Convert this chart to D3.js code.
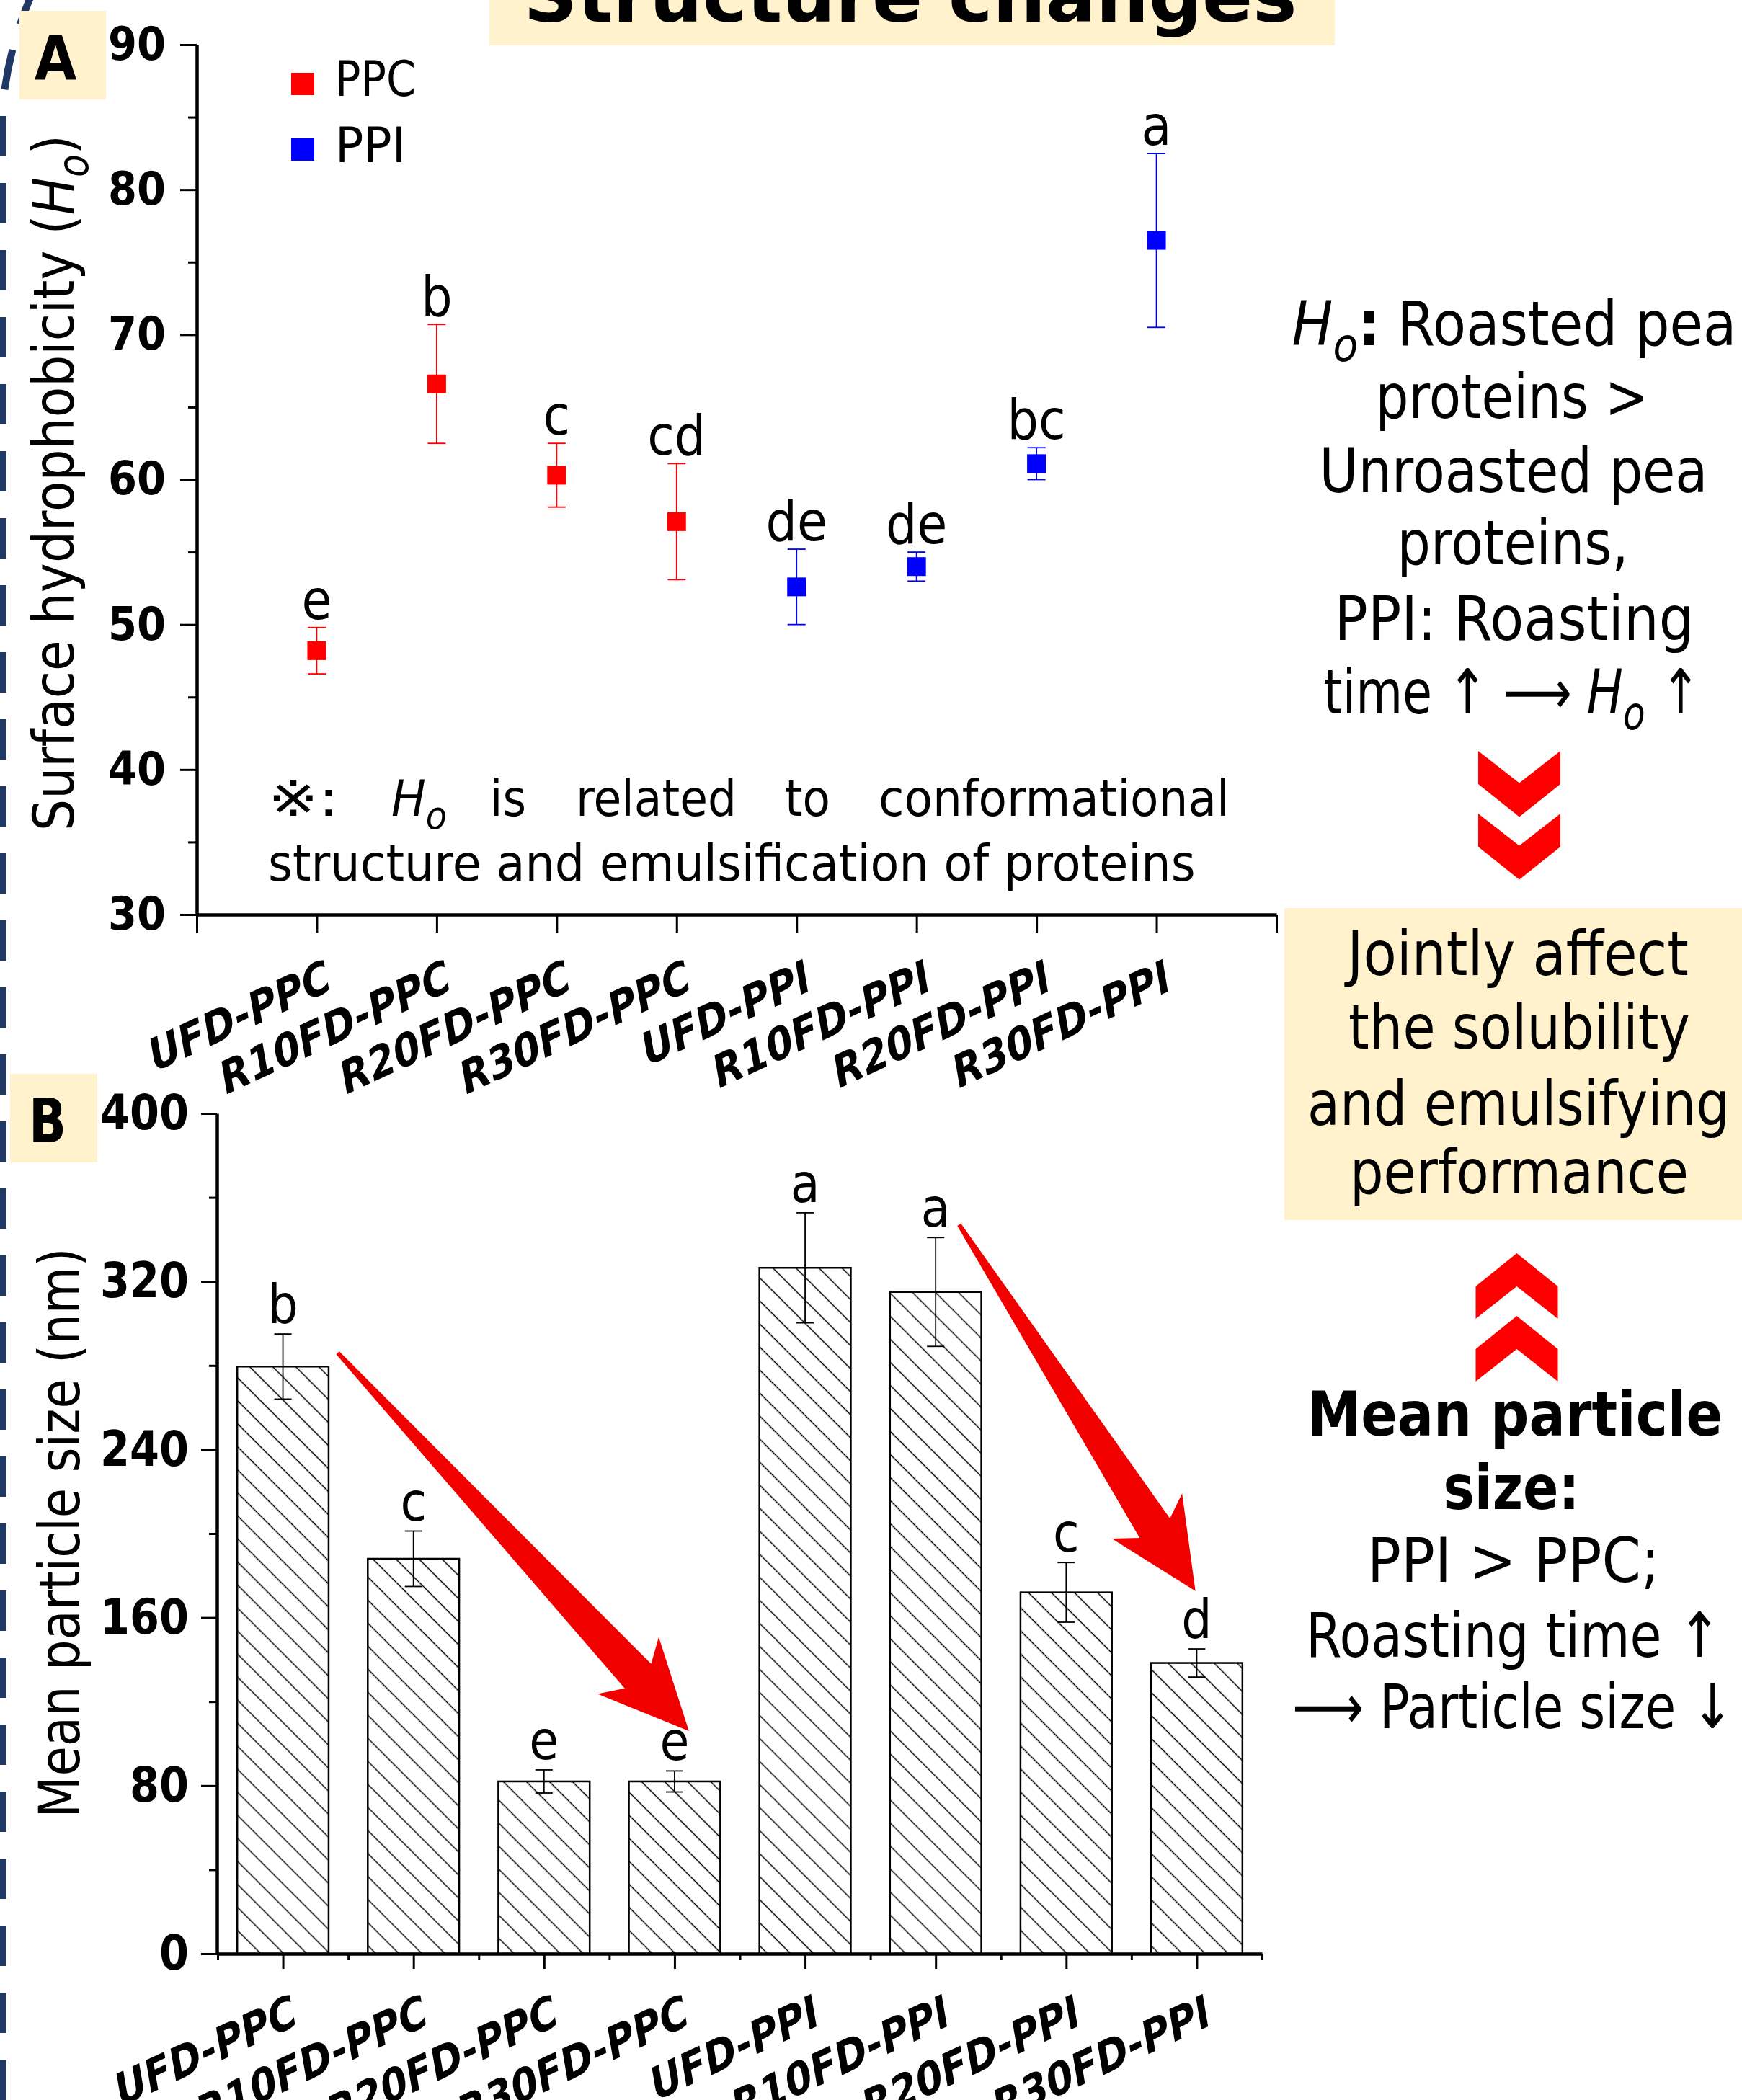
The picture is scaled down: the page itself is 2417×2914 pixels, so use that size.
<!DOCTYPE html>
<html lang="en">
<head>
<meta charset="UTF-8">
<title>Structure changes</title>
<script src="https://d3js.org/d3.v7.min.js"></script>
<style>
  body { margin: 0; background: #fff; }
  svg { display: block; font-family: "DejaVu Sans", Verdana, sans-serif; }
  text { white-space: pre; }
</style>
</head>
<body>
<script>
    // data
    var samples = ["UFD-PPC", "R10FD-PPC", "R20FD-PPC", "R30FD-PPC", "UFD-PPI", "R10FD-PPI", "R20FD-PPI", "R30FD-PPI"];
    var proteinType = ["PPC", "PPC", "PPC", "PPC", "PPI", "PPI", "PPI", "PPI"];
    var hoMean = [48.2, 66.6, 60.3, 57.1, 52.6, 54.0, 61.1, 76.5];
    var hoErr = [1.6, 4.1, 2.2, 4.0, 2.6, 1.0, 1.1, 6.0];
    var hoLetters = ["e", "b", "c", "cd", "de", "de", "bc", "a"];
    var sizeMean = [279.5, 188, 82, 82, 326.5, 315, 172, 138.4];
    var sizeErr = [15.5, 13.2, 5.5, 5, 26.2, 25.9, 14.2, 6.7];
    var sizeLetters = ["b", "c", "e", "e", "a", "a", "c", "d"];
    var hoTicks = [30, 40, 50, 60, 70, 80, 90];
    var hoMinor = [35, 45, 55, 65, 75, 85];
    var sizeTicks = [0, 80, 160, 240, 320, 400];
    var sizeMinor = [40, 120, 200, 280, 360];
    var typeColor = { PPC: "#ff0000", PPI: "#0000ff" };

    var W = 2417, H = 2914;
    var svg = d3.select("body").append("svg").attr("width", W).attr("height", H);
    svg.append("rect").attr("width", W).attr("height", H).attr("fill", "#fff");

    var defs = svg.append("defs");
    defs.append("pattern").attr("id", "hatch")
        .attr("patternUnits", "userSpaceOnUse")
        .attr("width", 22.6).attr("height", 22.6)
        .attr("patternTransform", "rotate(-45)")
        .append("line")
        .attr("x1", 11.3).attr("y1", -1).attr("x2", 11.3).attr("y2", 24)
        .attr("stroke", "#000").attr("stroke-width", 1.5);

    // squeeze a text horizontally to a given width
    function fit(t, w) {
        var bw = t.node().getBBox().width;
        if (bw > 0) t.attr("transform", (t.attr("transform") || "") + " scale(" + (w / bw) + ",1)");
        return t;
    }

    // text made of parts: plain strings or {t, i (italic), b (bold), sub}
    function rich(parent, x, y, parts, size, opt) {
        opt = opt || {};
        var t = parent.append("text")
            .attr("transform", "translate(" + x + "," + y + ")" + (opt.rotate ? " rotate(" + opt.rotate + ")" : ""))
            .attr("text-anchor", opt.anchor || "middle")
            .attr("font-size", size)
            .attr("font-weight", opt.bold ? "bold" : "normal")
            .attr("fill", "#000");
        var shift = 0;
        parts.forEach(function (p) {
            if (typeof p === "string") p = { t: p };
            var s = t.append("tspan").text(p.t);
            if (p.i) s.attr("font-style", "italic");
            if (p.b) s.attr("font-weight", "bold");
            var want = p.sub ? size * 0.25 : 0;
            if (want !== shift) { s.attr("dy", want - shift); shift = want; }
            if (p.sub) s.attr("font-size", size * 0.75);
        });
        if (opt.width) fit(t, opt.width);
        return t;
    }

    function fitTicks(g, size, perChar) {
        g.attr("font-size", size).attr("font-family", "DejaVu Sans").attr("font-weight", "bold");
        g.selectAll(".tick text").each(function () {
            var t = d3.select(this), x = +t.attr("x");
            t.attr("x", 0).attr("transform", "translate(" + x + ",0)");
            fit(t, t.text().length * perChar);
        });
    }

    function catLabel(g, x, y, s) {
        g.append("text")
            .attr("transform", "translate(" + x + "," + y + ") scale(1,1.15) rotate(-22)")
            .attr("text-anchor", "end").attr("font-size", 54)
            .attr("font-weight", "bold").attr("font-style", "italic")
            .text(s);
    }

    // dashed frame on the left edge
    svg.append("path")
        .attr("d", "M3.5,2914 V150 A500,500 0 0 1 45,-10")
        .attr("fill", "none").attr("stroke", "#1f3864")
        .attr("stroke-width", 10).attr("stroke-dasharray", "56 37");

    // title box
    svg.append("rect").attr("x", 679).attr("y", -5).attr("width", 1173).attr("height", 68).attr("fill", "#fff2cc");
    rich(svg, 1263, 30, ["Structure changes"], 100, { bold: true, width: 1073 });

    // ---------------- panel A ----------------
    var xA = d3.scaleLinear().domain([0, 9]).range([273, 1771]);
    var yA = d3.scaleLinear().domain([30, 90]).range([1269, 62]);
    var gA = svg.append("g");

    gA.append("rect").attr("x", 27).attr("y", 15).attr("width", 120).attr("height", 123).attr("fill", "#fff2cc");
    rich(gA, 77, 110, ["A"], 86, { bold: true, width: 59 });

    var yAxisA = gA.append("g").attr("transform", "translate(273,0)")
        .call(d3.axisLeft(yA).tickValues(hoTicks).tickSize(23).tickPadding(20).tickSizeOuter(0));
    yAxisA.select(".domain").attr("stroke-width", 4.5);
    yAxisA.selectAll(".tick line").attr("stroke-width", 3);
    fitTicks(yAxisA, 64, 40);
    gA.append("g").attr("transform", "translate(273,0)")
        .call(d3.axisLeft(yA).tickValues(hoMinor).tickSize(12).tickFormat(""))
        .call(function (g) { g.select(".domain").remove(); g.selectAll("line").attr("stroke-width", 3); });

    var xAxisA = gA.append("g").attr("transform", "translate(0,1269)")
        .call(d3.axisBottom(xA).tickValues(d3.range(0, 10)).tickSize(25).tickFormat("").tickSizeOuter(0));
    xAxisA.select(".domain").attr("stroke-width", 4.5);
    xAxisA.selectAll(".tick line").attr("stroke-width", 3);

    samples.forEach(function (s, i) { catLabel(gA, xA(i + 1) + 24, 1372, s); });

    var ptsA = gA.selectAll("g.pt").data(samples).enter().append("g").attr("class", "pt");
    ptsA.each(function (s, i) {
        var g = d3.select(this), cx = xA(i + 1), col = typeColor[proteinType[i]];
        var top = yA(hoMean[i] + hoErr[i]), bot = yA(hoMean[i] - hoErr[i]);
        g.append("line").attr("x1", cx).attr("x2", cx).attr("y1", top).attr("y2", bot).attr("stroke", col).attr("stroke-width", 1.8);
        [top, bot].forEach(function (yy) {
            g.append("line").attr("x1", cx - 12.5).attr("x2", cx + 12.5).attr("y1", yy).attr("y2", yy).attr("stroke", col).attr("stroke-width", 1.8);
        });
        g.append("rect").attr("x", cx - 13).attr("y", yA(hoMean[i]) - 13).attr("width", 26).attr("height", 26).attr("fill", col);
        g.append("text").attr("transform", "translate(" + cx + "," + (top - 12) + ") scale(0.9,1)")
            .attr("text-anchor", "middle").attr("font-size", 76).text(hoLetters[i]);
    });

    // legend
    [["PPC", 117, 133, 112], ["PPI", 208, 225, 98]].forEach(function (d) {
        gA.append("rect").attr("x", 404).attr("y", d[1] - 16).attr("width", 32).attr("height", 31).attr("fill", typeColor[d[0]]);
        rich(gA, 465, d[2], [d[0]], 68, { anchor: "start", width: d[3] });
    });

    // note inside panel A
    [[["※:"], 372, 98], [[{ t: "H", i: 1 }, { t: "o", i: 1, sub: 1 }], 543, 77], [["is"], 680, 50],
     [["related"], 799, 223], [["to"], 1089, 63], [["conformational"], 1219, 487]].forEach(function (w) {
        rich(gA, w[1], 1132, w[0], 70, { anchor: "start", width: w[2] });
    });
    rich(gA, 372, 1222, ["structure and emulsification of proteins"], 70, { anchor: "start", width: 1287 });

    rich(gA, 102, 670, ["Surface hydrophobicity (", { t: "H", i: 1 }, { t: "o", i: 1, sub: 1 }, ")"], 78, { rotate: -90, width: 966 });

    // ---------------- panel B ----------------
    var xB = d3.scaleBand().domain(samples).range([302, 1751]).paddingInner(0.3).paddingOuter(0.15);
    var xBl = d3.scaleLinear().domain([0, 8]).range([302, 1751]);
    var yB = d3.scaleLinear().domain([0, 400]).range([2711, 1545]);
    var gB = svg.append("g");

    gB.append("rect").attr("x", 14).attr("y", 1490).attr("width", 121).attr("height", 123).attr("fill", "#fff2cc");
    rich(gB, 66, 1585, ["B"], 86, { bold: true, width: 52 });

    gB.selectAll("rect.bar").data(samples).enter().append("rect").attr("class", "bar")
        .attr("x", function (d) { return xB(d); })
        .attr("y", function (d, i) { return yB(sizeMean[i]); })
        .attr("width", xB.bandwidth())
        .attr("height", function (d, i) { return yB(0) - yB(sizeMean[i]); })
        .attr("fill", "url(#hatch)").attr("stroke", "#000").attr("stroke-width", 2.5);

    samples.forEach(function (s, i) {
        var cx = xB(s) + xB.bandwidth() / 2;
        var top = yB(sizeMean[i] + sizeErr[i]), bot = yB(sizeMean[i] - sizeErr[i]);
        gB.append("line").attr("x1", cx).attr("x2", cx).attr("y1", top).attr("y2", bot).attr("stroke", "#000").attr("stroke-width", 1.8);
        [top, bot].forEach(function (yy) {
            gB.append("line").attr("x1", cx - 12).attr("x2", cx + 12).attr("y1", yy).attr("y2", yy).attr("stroke", "#000").attr("stroke-width", 1.8);
        });
        gB.append("text").attr("transform", "translate(" + cx + "," + (top - 15) + ") scale(0.9,1)")
            .attr("text-anchor", "middle").attr("font-size", 74).text(sizeLetters[i]);
        catLabel(gB, cx + 24, 2808, s);
    });

    var yAxisB = gB.append("g").attr("transform", "translate(301,0)")
        .call(d3.axisLeft(yB).tickValues(sizeTicks).tickSize(22).tickPadding(17).tickSizeOuter(0));
    yAxisB.select(".domain").attr("stroke-width", 4.5);
    yAxisB.selectAll(".tick line").attr("stroke-width", 3);
    fitTicks(yAxisB, 68, 41);
    gB.append("g").attr("transform", "translate(301,0)")
        .call(d3.axisLeft(yB).tickValues(sizeMinor).tickSize(11).tickFormat(""))
        .call(function (g) { g.select(".domain").remove(); g.selectAll("line").attr("stroke-width", 3); });

    var xAxisB = gB.append("g").attr("transform", "translate(0,2711)")
        .call(d3.axisBottom(xBl).tickValues(d3.range(0, 9)).tickSize(9).tickFormat("").tickSizeOuter(0));
    xAxisB.select(".domain").attr("stroke-width", 4.5);
    xAxisB.selectAll(".tick line").attr("stroke-width", 3);
    gB.append("g").attr("transform", "translate(0,2711)")
        .call(d3.axisBottom(xBl).tickValues(d3.range(0.5, 8, 1)).tickSize(21).tickFormat(""))
        .call(function (g) { g.select(".domain").remove(); g.selectAll("line").attr("stroke-width", 3); });

    rich(gB, 110, 2127, ["Mean particle size (nm)"], 78, { rotate: -90, width: 791 });

    // red trend arrows, ends given in (band position, particle size)
    var trendArrows = [
        { from: [0.92, 286], to: [3.61, 106] },
        { from: [5.68, 347], to: [7.49, 172.6] }
    ];
    trendArrows.forEach(function (a) {
        var x0 = xBl(a.from[0]), y0 = yB(a.from[1]), x1 = xBl(a.to[0]), y1 = yB(a.to[1]);
        var dx = x1 - x0, dy = y1 - y0, L = Math.hypot(dx, dy), ux = dx / L, uy = dy / L, nx = -uy, ny = ux;
        var hl = 124, hw = 58, nl = 104, nw = 25, tw = 3;
        function p(along, side) { return [x1 - ux * along + nx * side, y1 - uy * along + ny * side]; }
        var pts = [
            [x0 + nx * tw, y0 + ny * tw], p(nl, nw), p(hl, hw), [x1, y1], p(hl, -hw), p(nl, -nw), [x0 - nx * tw, y0 - ny * tw]
        ];
        gB.append("path").attr("d", "M" + pts.join("L") + "Z").attr("fill", "#f20000");
    });

    // ---------------- right-hand notes ----------------
    var gR = svg.append("g");
    gR.append("rect").attr("x", 1782).attr("y", 1260).attr("width", 640).attr("height", 433).attr("fill", "#fff2cc");

    var notes = [
        { x: 2101, y: 479, w: 617, p: [{ t: "H", i: 1 }, { t: "o", i: 1, sub: 1 }, { t: ":", b: 1 }, " Roasted pea"] },
        { x: 2098, y: 580, w: 379, p: ["proteins >"] },
        { x: 2100, y: 683, w: 539, p: ["Unroasted pea"] },
        { x: 2099, y: 783, w: 321, p: ["proteins,"] },
        { x: 2101, y: 888, w: 499, p: ["PPI: Roasting"] },
        { x: 2098, y: 990, w: 523, p: ["time \u2191 \u27f6 ", { t: "H", i: 1 }, { t: "o", i: 1, sub: 1 }, " \u2191"] },
        { x: 2106, y: 1353, w: 478, p: ["Jointly affect"] },
        { x: 2108, y: 1455, w: 474, p: ["the solubility"] },
        { x: 2107, y: 1561, w: 586, p: ["and emulsifying"] },
        { x: 2108, y: 1656, w: 470, p: ["performance"] },
        { x: 2102, y: 1992, w: 576, p: ["Mean particle"], bold: true },
        { x: 2097, y: 2094, w: 189, p: ["size:"], bold: true },
        { x: 2100, y: 2195, w: 406, p: ["PPI > PPC;"] },
        { x: 2100, y: 2299, w: 576, p: ["Roasting time \u2191"] },
        { x: 2099, y: 2398, w: 612, p: ["\u27f6 Particle size \u2193"] }
    ];
    notes.forEach(function (n) {
        rich(gR, n.x, n.y, n.p, n.bold ? 85 : 86, { bold: n.bold, width: n.w });
    });

    function chevron(cx, y0, down) {
        var pts = down
            ? [[cx - 57, y0], [cx, y0 + 44.5], [cx + 57, y0], [cx + 57, y0 + 46], [cx, y0 + 91.5], [cx - 57, y0 + 46]]
            : [[cx, y0], [cx + 57, y0 + 46], [cx + 57, y0 + 91], [cx, y0 + 46], [cx - 57, y0 + 91], [cx - 57, y0 + 46]];
        gR.append("path").attr("d", "M" + pts.join("L") + "Z").attr("fill", "#ff0000");
    }
    chevron(2108, 1042, true);
    chevron(2108, 1129, true);
    chevron(2104.5, 1739, false);
    chevron(2104.5, 1826, false);
</script>
</body>
</html>
